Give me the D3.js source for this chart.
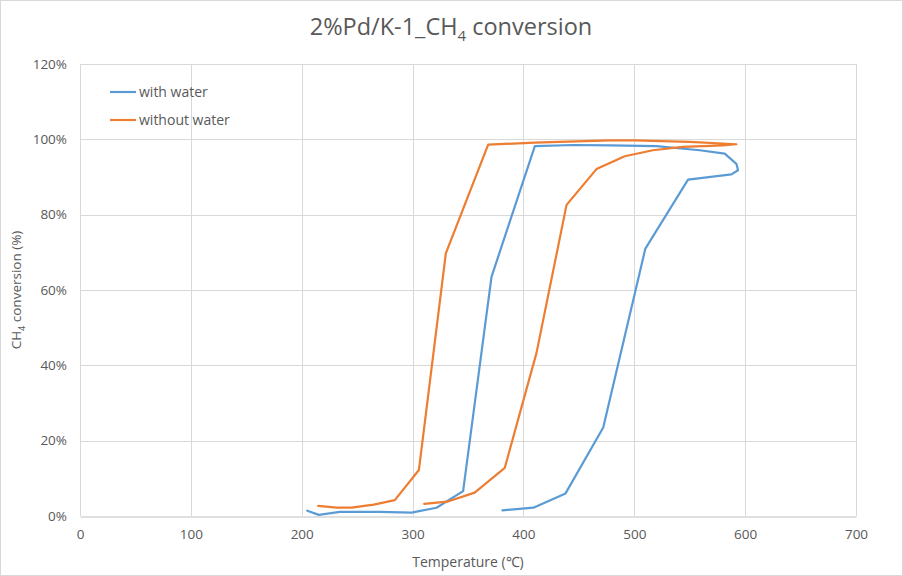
<!DOCTYPE html>
<html><head><meta charset="utf-8">
<script src="https://cdn.jsdelivr.net/npm/d3@7"></script>
<style>body{margin:0;background:#fff}svg{display:block}text{font-family:"Open Sans",sans-serif}</style>
</head><body><svg id="c" width="903" height="576"></svg>
<script>
const xTicks = [0,100,200,300,400,500,600,700];
const yTicks = [0,0.2,0.4,0.6,0.8,1.0,1.2];
const seriesNames = ["with water","without water"];
const seriesColors = ["#5b9bd5","#ed7d31"];
const withWaterTemp = [205,215.5,234.4,270.5,299,321.6,345.6,371.2,410.3,445,478,520,559,581.6,592.1,593.6,587.6,548.5,510,472,438,409,381];
const withWaterConv = [1.4,0.3,1.1,1.1,0.9,2.2,6.6,63.5,98.2,98.5,98.4,98.2,97.1,96.2,93.5,91.8,90.7,89.3,71,23.5,6,2.2,1.5];
const withoutWaterTemp = [214.9,231.4,245,265,284,305.7,330,368.2,410,478,500,550,592.1,580,543.7,516.7,491.4,465.9,438.9,411.8,383.2,356,331.2,310.5];
const withoutWaterConv = [2.7,2.2,2.2,3.0,4.2,12.2,69.7,98.6,99.1,99.7,99.7,99.3,98.7,98.4,98,97.1,95.5,92.1,82.6,43.3,12.8,6.2,3.8,3.2];

const svg = d3.select("#c");
const L=80,R=856,T=64,B=516;
const x = d3.scaleLinear().domain([0,700]).range([L,R]);
const y = d3.scaleLinear().domain([0,1.2]).range([B,T]);
const txt="#595959";

svg.append("rect").attr("x",0.5).attr("y",0.5).attr("width",902).attr("height",575).attr("fill","#fff").attr("stroke","#d9d9d9");

// gridlines
svg.append("g").selectAll("line").data(yTicks.filter(d=>d>0)).join("line")
  .attr("x1",L).attr("x2",R).attr("y1",d=>Math.round(y(d))+0.5).attr("y2",d=>Math.round(y(d))+0.5)
  .attr("stroke","#d9d9d9");
svg.append("g").selectAll("line").data(xTicks).join("line")
  .attr("y1",T).attr("y2",B).attr("x1",d=>Math.round(x(d))+0.5).attr("x2",d=>Math.round(x(d))+0.5)
  .attr("stroke","#d9d9d9");

// axes
const xa = svg.append("g").attr("transform",`translate(0,${B+0.5})`)
  .call(d3.axisBottom(x).tickValues(xTicks).tickSize(0).tickPadding(13));
xa.select(".domain").attr("stroke","#bfbfbf");
xa.selectAll("text").attr("fill",txt).style("font-size","13.5px");
const ya = svg.append("g").attr("transform",`translate(${L},0)`)
  .call(d3.axisLeft(y).tickValues(yTicks).tickFormat(d3.format(".0%")).tickSize(0).tickPadding(13));
ya.select(".domain").remove();
ya.selectAll("text").attr("fill",txt).style("font-size","13.5px");

// lines
const line = d3.line().x(d=>x(d[0])).y(d=>y(d[1]/100));
const data = [
  d3.zip(withWaterTemp, withWaterConv),
  d3.zip(withoutWaterTemp, withoutWaterConv)
];
svg.append("g").selectAll("path").data(data).join("path")
  .attr("d",line).attr("fill","none").attr("stroke",(d,i)=>seriesColors[i])
  .attr("stroke-width",2.2).attr("stroke-linejoin","round").attr("stroke-linecap","round");

// title
const title = svg.append("text").attr("x",451).attr("y",35).attr("text-anchor","middle")
  .attr("fill",txt).style("font-size","23.5px");
title.append("tspan").text("2%Pd/K-1_CH");
title.append("tspan").text("4").attr("dy",6).style("font-size","15px");
title.append("tspan").text(" conversion").attr("dy",-6);

// axis titles
svg.append("text").attr("x",468).attr("y",567).attr("text-anchor","middle").attr("fill",txt)
  .style("font-size","14px").text("Temperature (℃)");
const yt = svg.append("text").attr("transform","translate(21,290) rotate(-90)").attr("text-anchor","middle")
  .attr("fill",txt).style("font-size","13.5px");
yt.append("tspan").text("CH");
yt.append("tspan").text("4").attr("dy",4).style("font-size","9px");
yt.append("tspan").text(" conversion (%)").attr("dy",-4);

// legend
const lg = svg.append("g").selectAll("g").data(seriesNames).join("g")
  .attr("transform",(d,i)=>`translate(110,${92+i*28})`);
lg.append("line").attr("x1",0).attr("x2",26).attr("stroke",(d,i)=>seriesColors[i]).attr("stroke-width",2.2);
lg.append("text").attr("x",29).attr("y",5).attr("fill",txt).style("font-size","14px").text(d=>d);
</script></body></html>
